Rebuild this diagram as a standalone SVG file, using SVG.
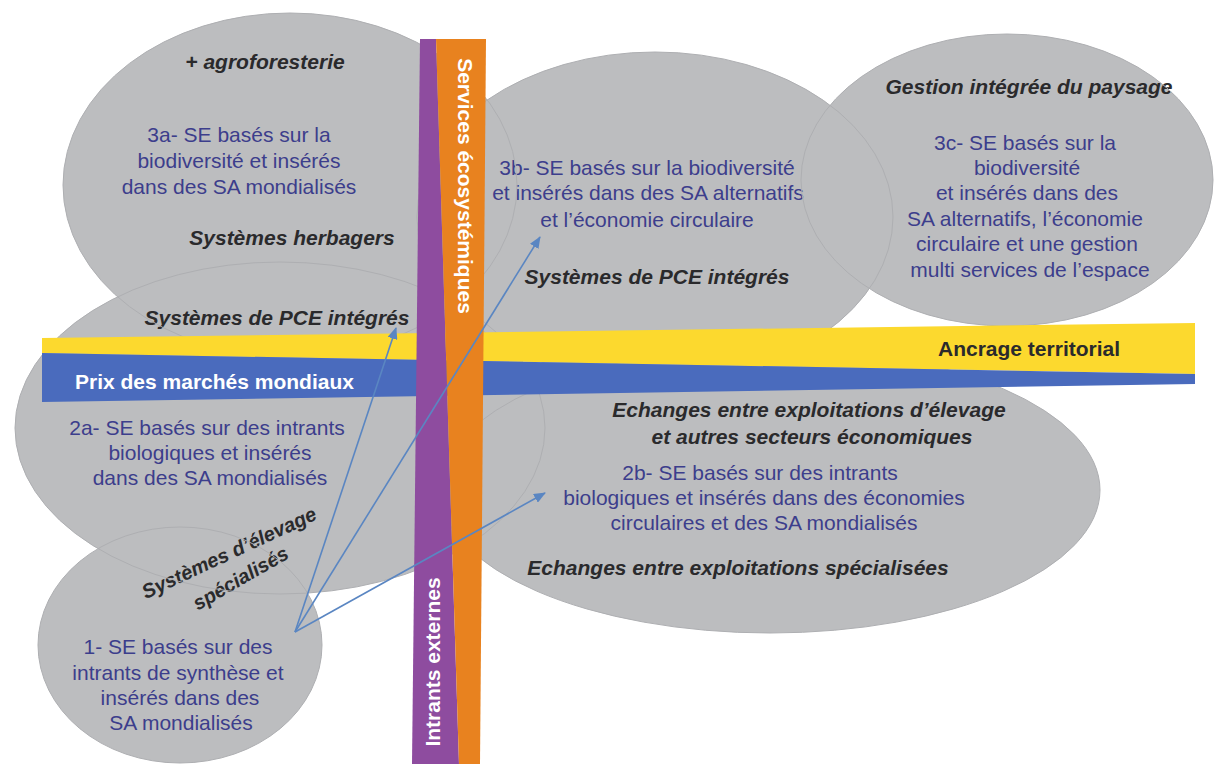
<svg xmlns="http://www.w3.org/2000/svg" width="1215" height="764" viewBox="0 0 1215 764">
<style>
text{font-family:"Liberation Sans",Arial,Helvetica,sans-serif;font-size:21px}
.blob{fill:#bcbdbf}
.edge{fill:none;stroke:#aeafb2;stroke-width:1}
.se{fill:#3c3e8c;text-anchor:middle}
.lab{fill:#2a2a2c;font-weight:bold;font-style:italic;text-anchor:middle}
.band{fill:#ffffff;font-weight:bold}
.dark{fill:#2a2a2c;font-weight:bold}
.arrow{fill:none;stroke:#5a86c2;stroke-width:1.6;marker-end:url(#ah)}
</style>
<defs>
<marker id="ah" markerUnits="userSpaceOnUse" markerWidth="13" markerHeight="10" refX="11" refY="5" orient="auto">
<path d="M0,0 L12,5 L0,10 z" fill="#5a86c2"/>
</marker>
</defs>
<rect width="1215" height="764" fill="#ffffff"/>

<g id="node-3a">
<ellipse class="blob" cx="290" cy="185" rx="227" ry="172"/>
<text class="lab" x="265" y="69">+ agroforesterie</text>
<text class="se" x="239" y="142">3a- SE basés sur la</text>
<text class="se" x="239" y="168">biodiversité et insérés</text>
<text class="se" x="239" y="194">dans des SA mondialisés</text>
<text class="lab" x="292" y="245">Systèmes herbagers</text>
</g>

<g id="node-2a">
<ellipse class="blob" cx="280" cy="428" rx="265" ry="166"/>
<text class="lab" x="277" y="325">Systèmes de PCE intégrés</text>
<text class="se" x="207" y="435">2a- SE basés sur des intrants</text>
<text class="se" x="210" y="460">biologiques et insérés</text>
<text class="se" x="210" y="485">dans des SA mondialisés</text>
</g>

<g id="node-1">
<ellipse class="blob" cx="180" cy="645" rx="142" ry="118"/>
<text class="lab" transform="translate(232,559) rotate(-25)" x="0" y="0" style="font-size:20px">Systèmes d’élevage</text>
<text class="lab" transform="translate(244,584) rotate(-30)" x="0" y="0" style="font-size:20px">spécialisés</text>
<text class="se" x="178" y="654">1- SE basés sur des</text>
<text class="se" x="178" y="680">intrants de synthèse et</text>
<text class="se" x="180" y="705">insérés dans des</text>
<text class="se" x="181" y="730">SA mondialisés</text>
</g>

<g id="node-3c">
<ellipse class="blob" cx="1007" cy="180" rx="206" ry="146"/>
<text class="lab" x="1029" y="94">Gestion intégrée du paysage</text>
<text class="se" x="1025" y="150">3c- SE basés sur la</text>
<text class="se" x="1027" y="175">biodiversité</text>
<text class="se" x="1027" y="200">et insérés dans des</text>
<text class="se" x="1025" y="226">SA alternatifs, l’économie</text>
<text class="se" x="1027" y="251">circulaire et une gestion</text>
<text class="se" x="1030" y="277">multi services de l’espace</text>
</g>

<g id="node-3b">
<ellipse class="blob" cx="655" cy="217" rx="238" ry="165"/>
<text class="se" x="647" y="175">3b- SE basés sur la biodiversité</text>
<text class="se" x="648" y="200">et insérés dans des SA alternatifs</text>
<text class="se" x="647" y="227">et l’économie circulaire</text>
<text class="lab" x="657" y="284">Systèmes de PCE intégrés</text>
</g>

<g id="node-2b">
<ellipse class="blob" cx="770" cy="490" rx="330" ry="143"/>
<text class="lab" x="809" y="417">Echanges entre exploitations d’élevage</text>
<text class="lab" x="812" y="444">et autres secteurs économiques</text>
<text class="se" x="760" y="480">2b- SE basés sur des intrants</text>
<text class="se" x="764" y="505">biologiques et insérés dans des économies</text>
<text class="se" x="764" y="530">circulaires et des SA mondialisés</text>
<text class="lab" x="738" y="575">Echanges entre exploitations spécialisées</text>
</g>

<g id="ellipse-edges">
<ellipse class="edge" cx="290" cy="185" rx="227" ry="172"/>
<ellipse class="edge" cx="280" cy="428" rx="265" ry="166"/>
<ellipse class="edge" cx="180" cy="645" rx="142" ry="118"/>
<ellipse class="edge" cx="1007" cy="180" rx="206" ry="146"/>
<ellipse class="edge" cx="655" cy="217" rx="238" ry="165"/>
<ellipse class="edge" cx="770" cy="490" rx="330" ry="143"/>
</g>

<g id="axis-horizontal">
<polygon points="42,338 1195,323 1195,374 42,353" fill="#fcd92e"/>
<polygon points="42,353 1195,374 1195,384 42,402" fill="#4a6bbd"/>
<text class="band" x="75" y="389">Prix des marchés mondiaux</text>
<text class="dark" x="938" y="356">Ancrage territorial</text>
</g>

<g id="axis-vertical">
<polygon points="420,39 436,39 459,764 412,764" fill="#8e4c9f"/>
<polygon points="436,39 486,39 480,764 459,764" fill="#e8821f"/>
<text class="band" transform="translate(458,186) rotate(90)" text-anchor="middle">Services écosystémiques</text>
<text class="band" transform="translate(440,662) rotate(-90)" text-anchor="middle">Intrants externes</text>
</g>

<g id="connectors">
<line class="arrow" x1="295" y1="632" x2="396" y2="328"/>
<line class="arrow" x1="295" y1="632" x2="540" y2="237"/>
<line class="arrow" x1="295" y1="632" x2="545" y2="493"/>
</g>
</svg>
